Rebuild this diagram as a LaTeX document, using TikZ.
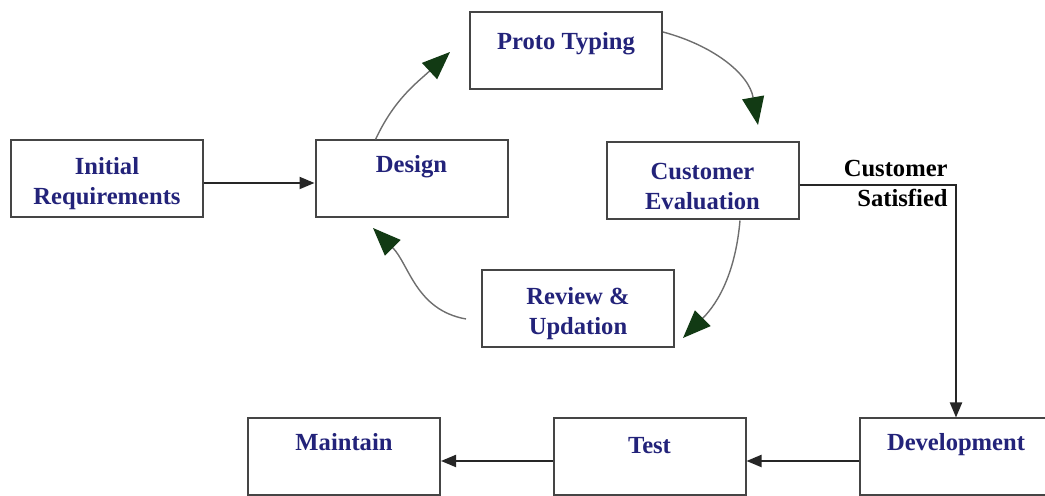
\documentclass[tikz,border=0pt]{standalone}
\usepackage{fontspec}
\setmainfont{Liberation Serif}
\usepackage{xcolor}
\usetikzlibrary{arrows.meta, positioning}
\definecolor{tinta}{HTML}{23237A}
\definecolor{borde}{HTML}{454545}
\definecolor{gris}{HTML}{6E6E6E}
\definecolor{verdeosc}{HTML}{123A14}
% espacio de arriba dentro de cada caja
\newcommand{\tope}[1][13.5pt]{\rule{0pt}{#1}}
\tikzset{
  every picture/.style={font=\bfseries\fontsize{12.3}{15}\selectfont},
  caja/.style={draw=borde, text=tinta, fill=white, line width=1pt, inner sep=0pt,
              minimum width=96pt, minimum height=38.5pt, align=center},
  nota/.style={text=black, inner sep=0pt, align=right},
  flecha/.style={-{Triangle[length=7.5pt,width=6pt]}, line width=1pt, black!85},
  curva/.style={-{Triangle[length=14pt,width=11pt,color=verdeosc]}, line width=0.7pt, gris},
}

\begin{document}
\begin{tikzpicture}[x=0.5pt, y=0.5pt]
  \useasboundingbox (0,0) rectangle (1045,496);
  % ciclo de prototipos
  \node[caja] (Ini) at (107,317) {\tope Initial\\Requirements};
  \node[caja] (Des) at (411.5,317) {\tope Design\\\strut};
  \node[caja] (Pro) at (566,445) {\tope[18.5pt]Proto Typing\\\strut};
  \node[caja] (Eva) at (702.5,315) {\tope Customer\\Evaluation};
  \node[caja] (Rev) at (578,187.5) {\tope Review \&\\Updation};
  % fila de abajo
  \node[caja] (Man) at (344,39) {\tope Maintain\\\strut};
  \node[caja] (Tes) at (649.5,39) {\tope[16pt]Test\\\strut};
  \node[caja] (Dev) at (956,39) {\tope Development\\\strut};
  \node[nota, anchor=east] (Sat) at (948,313) {Customer\\Satisfied};
  % puntas sueltas de las curvas
  \coordinate (pA) at (450,444);
  \coordinate (pB) at (758,371);
  \coordinate (pC) at (683,158);
  \coordinate (pD) at (373,268);
  \draw[flecha] ([yshift=-2pt]Ini.east) -- ([yshift=-2pt]Des.west);
  \draw[curva] ([xshift=-18pt]Des.north) to[out=65,in=223] (pA);
  \draw[curva] ([yshift=9.5pt]Pro.east) to[out=-15,in=100] (pB);
  \draw[curva] ([xshift=18.75pt]Eva.south) to[out=265,in=45] (pC);
  \draw[curva] ([xshift=-7.5pt,yshift=-5.25pt]Rev.west) to[out=170,in=-45] (pD);
  \draw[flecha] ([yshift=-2pt]Eva.east) -| (Dev.north);
  \draw[flecha] ([yshift=-2pt]Dev.west) -- ([yshift=-2pt]Tes.east);
  \draw[flecha] ([yshift=-2pt]Tes.west) -- ([yshift=-2pt]Man.east);
\end{tikzpicture}
\end{document}
